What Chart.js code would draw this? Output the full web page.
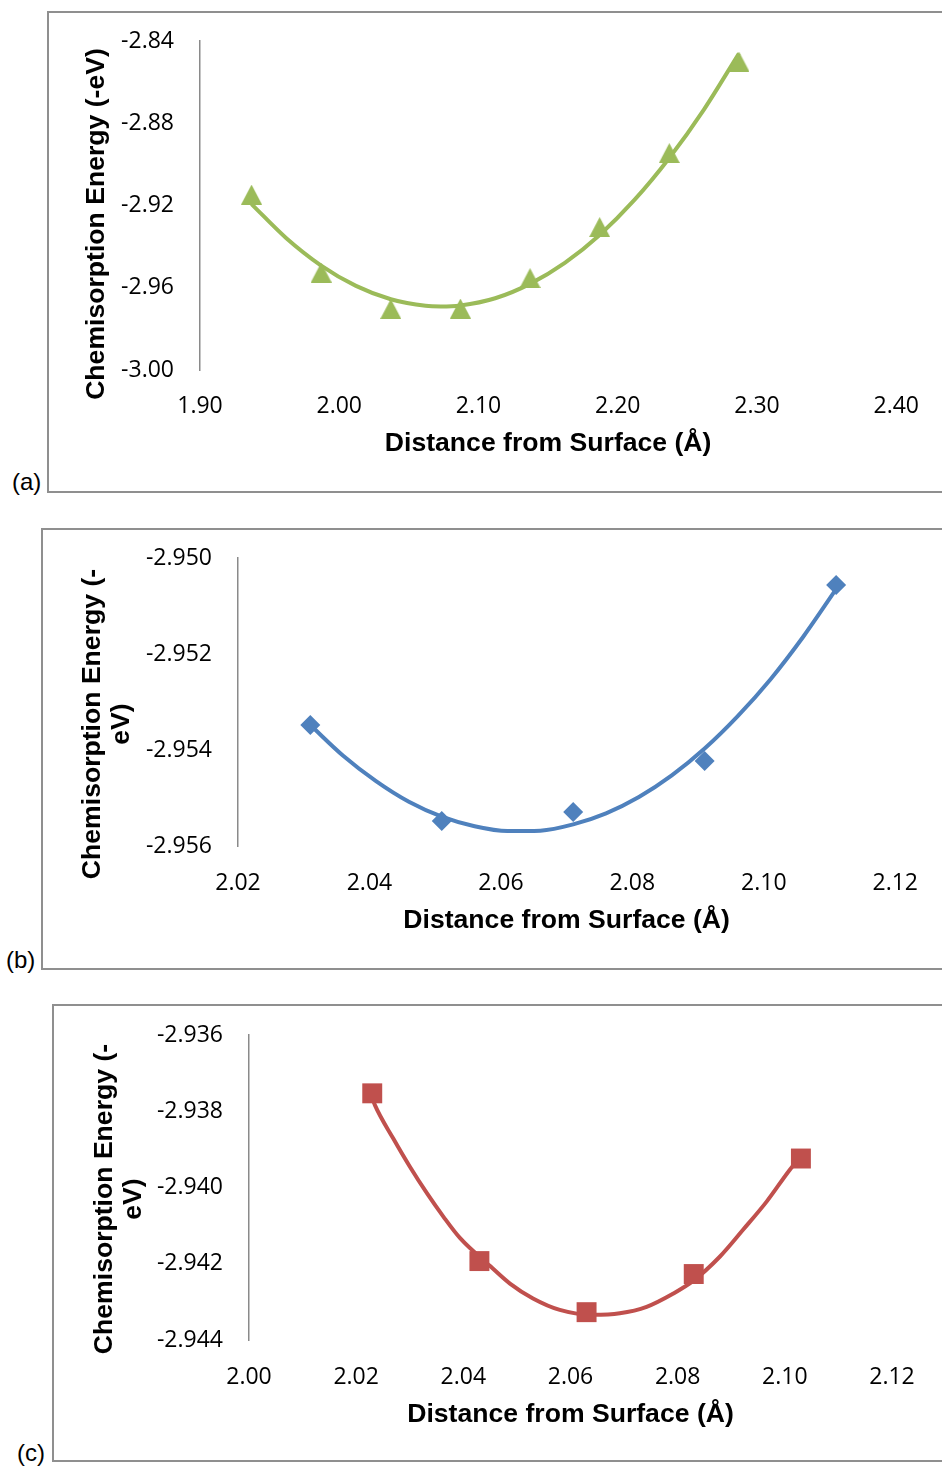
<!DOCTYPE html>
<html>
<head>
<meta charset="utf-8">
<script src="https://cdn.jsdelivr.net/npm/chart.js@4.4.1/dist/chart.umd.min.js"></script>
<style>
html,body{margin:0;padding:0;background:#fff;width:942px;height:1467px;overflow:hidden;position:relative;}
.frame{position:absolute;border:2px solid #8f8f8f;border-right:none;box-sizing:border-box;width:1000px;}
.lbl{position:absolute;font-family:"Liberation Sans",Arial,sans-serif;font-size:24px;line-height:24px;color:#000;white-space:nowrap;}
canvas{position:absolute;left:0;}
</style>
</head>
<body>
<div class="frame" style="left:47px;top:11px;height:482px"></div>
<div class="frame" style="left:41px;top:528px;height:442px"></div>
<div class="frame" style="left:52px;top:1004px;height:458px"></div>
<div class="lbl" style="left:12px;top:470px">(a)</div>
<div class="lbl" style="left:6px;top:948px">(b)</div>
<div class="lbl" style="left:17px;top:1441px">(c)</div>
<canvas id="chartA" width="942" height="495" style="top:0px;width:942px;height:495px"></canvas>
<canvas id="chartB" width="942" height="485" style="top:495px;width:942px;height:485px"></canvas>
<canvas id="chartC" width="942" height="487" style="top:980px;width:942px;height:487px"></canvas>
<script>
// ---------- DATA ----------
// Panel (a)
const distanceA = [1.937, 1.987, 2.037, 2.087, 2.137, 2.187, 2.237, 2.287];
const energyA   = [-2.9147, -2.9526, -2.9703, -2.9701, -2.9553, -2.9305, -2.8945, -2.8500];
const trendDistanceA = [1.937, 1.962, 1.987, 2.012, 2.037, 2.062, 2.073, 2.087, 2.112, 2.137, 2.162, 2.187, 2.212, 2.237, 2.262, 2.287];
const trendEnergyA   = [-2.9193, -2.9359, -2.9492, -2.9591, -2.9656, -2.9688, -2.9691, -2.9686, -2.9651, -2.9581, -2.9479, -2.9343, -2.9173, -2.8969, -2.8732, -2.8461];
const xTicksA = [1.90, 2.00, 2.10, 2.20, 2.30, 2.40];
const xTickLabelsA = ['1.90', '2.00', '2.10', '2.20', '2.30', '2.40'];
const yTicksA = [-3.00, -2.96, -2.92, -2.88, -2.84];
const yTickLabelsA = ['-3.00', '-2.96', '-2.92', '-2.88', '-2.84'];

// Panel (b)
const distanceB = [2.031, 2.051, 2.071, 2.091, 2.111];
const energyB   = [-2.95348, -2.95548, -2.95529, -2.95423, -2.95056];
const trendDistanceB = [2.031, 2.036, 2.041, 2.046, 2.051, 2.056, 2.061, 2.066, 2.071, 2.076, 2.081, 2.086, 2.091, 2.096, 2.101, 2.106, 2.111];
const trendEnergyB   = [-2.95348, -2.95412, -2.95465, -2.95508, -2.95539, -2.95559, -2.95569, -2.95568, -2.95555, -2.95532, -2.95498, -2.95453, -2.95397, -2.95330, -2.95253, -2.95164, -2.95065];
const xTicksB = [2.02, 2.04, 2.06, 2.08, 2.10, 2.12];
const xTickLabelsB = ['2.02', '2.04', '2.06', '2.08', '2.10', '2.12'];
const yTicksB = [-2.956, -2.954, -2.952, -2.950];
const yTickLabelsB = ['-2.956', '-2.954', '-2.952', '-2.950'];

// Panel (c)
const distanceC = [2.023, 2.043, 2.063, 2.083, 2.103];
const energyC   = [-2.93753, -2.94193, -2.94327, -2.94227, -2.93924];
const trendDistanceC = [2.0230, 2.0235, 2.0269, 2.0300, 2.0332, 2.0363, 2.0394, 2.0450, 2.0487, 2.0530, 2.0580, 2.0642, 2.0692, 2.0742, 2.0792, 2.0829, 2.0879, 2.0922, 2.0966, 2.1009, 2.1030];
const trendEnergyC   = [-2.93765, -2.93784, -2.93871, -2.93945, -2.94015, -2.94077, -2.94133, -2.94206, -2.94252, -2.94291, -2.94321, -2.94334, -2.94330, -2.94313, -2.94278, -2.94245, -2.94181, -2.94111, -2.94037, -2.93954, -2.93918];
const xTicksC = [2.00, 2.02, 2.04, 2.06, 2.08, 2.10, 2.12];
const xTickLabelsC = ['2.00', '2.02', '2.04', '2.06', '2.08', '2.10', '2.12'];
const yTicksC = [-2.944, -2.942, -2.940, -2.938, -2.936];
const yTickLabelsC = ['-2.944', '-2.942', '-2.940', '-2.938', '-2.936'];

const xTitleText = 'Distance from Surface (Å)';
const yTitleA = ['Chemisorption Energy (-eV)'];
const yTitleB = ['Chemisorption Energy (-', 'eV)'];
const yTitleC = ['Chemisorption Energy (-', 'eV)'];

// ---------- STYLE / HELPERS ----------
const TICK_FONT = {family: '"Open Sans", "Liberation Sans", Arial, sans-serif', size: 23};
const TITLE_FAMILY = '"Liberation Sans", Arial, sans-serif';
const TITLE_SIZE = 26.6;

function toPoints(xs, ys) { return xs.map((x, i) => ({x: x, y: ys[i]})); }

function triangleImg(color) {
  const c = document.createElement('canvas');
  c.width = 21; c.height = 20;
  const g = c.getContext('2d');
  g.fillStyle = color;
  g.beginPath();
  g.moveTo(10.5, 0); g.lineTo(21, 20); g.lineTo(0, 20); g.closePath();
  g.fill();
  return c;
}

// draws the rotated y-axis title (multi-line) at given baseline positions
const yTitlePlugin = {
  id: 'yTitleText',
  afterDraw(chart, args, opts) {
    if (!opts || !opts.lines) return;
    const ctx = chart.ctx;
    ctx.save();
    ctx.font = 'bold ' + TITLE_SIZE + 'px ' + TITLE_FAMILY;
    ctx.fillStyle = '#000';
    ctx.textAlign = 'center';
    ctx.textBaseline = 'alphabetic';
    opts.lines.forEach((line, i) => {
      ctx.save();
      ctx.translate(opts.baselines[i], opts.centerY);
      ctx.rotate(-Math.PI / 2);
      ctx.fillText(line, 0, 0);
      ctx.restore();
    });
    ctx.restore();
  }
};

function makeChart(id, p) {
  const ctx = document.getElementById(id);
  return new Chart(ctx, {
    type: 'scatter',
    data: {
      datasets: [
        {
          data: toPoints(p.dist, p.energy),
          showLine: false,
          pointStyle: p.pointStyle,
          pointRadius: p.pointRadius,
          pointBackgroundColor: p.color,
          pointBorderColor: p.color,
          pointBorderWidth: 0,
          order: 0
        },
        {
          data: toPoints(p.trendDist, p.trendEnergy),
          showLine: true,
          borderColor: p.color,
          borderWidth: 4,
          pointRadius: 0,
          cubicInterpolationMode: 'monotone',
          fill: false,
          order: 1
        }
      ]
    },
    options: {
      responsive: false,
      animation: false,
      events: [],
      layout: {padding: p.padding},
      plugins: {
        legend: {display: false},
        tooltip: {enabled: false},
        yTitleText: p.yTitle
      },
      scales: {
        x: {
          type: 'linear',
          position: 'bottom',
          min: p.xTicks[0],
          max: p.xTicks[p.xTicks.length - 1],
          afterBuildTicks: s => { s.ticks = p.xTicks.map(v => ({value: v})); },
          afterFit: s => { s.height = 100; },
          grid: {display: false, drawTicks: false},
          border: {display: false},
          ticks: {
            padding: p.xTickPad,
            font: TICK_FONT,
            color: '#000',
            maxRotation: 0,
            autoSkip: false,
            callback: (v) => p.xLabels[p.xTicks.indexOf(v)]
          },
          title: {
            display: true,
            text: xTitleText,
            color: '#000',
            font: {family: TITLE_FAMILY, size: TITLE_SIZE, weight: 'bold'},
            padding: {top: 0, bottom: p.xTitlePad}
          }
        },
        y: {
          type: 'linear',
          position: 'left',
          min: p.yTicks[0],
          max: p.yTicks[p.yTicks.length - 1],
          afterBuildTicks: s => { s.ticks = p.yTicks.map(v => ({value: v})); },
          afterFit: s => { s.width = 130; },
          grid: {display: false, drawTicks: false},
          border: {display: true, color: '#8a8a8a', width: 1.5},
          ticks: {
            padding: 26,
            font: TICK_FONT,
            color: '#000',
            autoSkip: false,
            callback: (v) => p.yLabels[p.yTicks.indexOf(v)]
          },
          title: {display: false}
        }
      }
    },
    plugins: [yTitlePlugin]
  });
}

// Panel (a): canvas top 0, plot area x 200..900, y 41..370
makeChart('chartA', {
  dist: distanceA, energy: energyA, trendDist: trendDistanceA, trendEnergy: trendEnergyA,
  xTicks: xTicksA, xLabels: xTickLabelsA, yTicks: yTicksA, yLabels: yTickLabelsA,
  color: '#9BBB59', pointStyle: triangleImg('#9BBB59'), pointRadius: 10,
  padding: {left: 70, right: 42, top: 41, bottom: 25},
  xTickPad: 23, xTitlePad: 10,
  yTitle: {lines: yTitleA, baselines: [104], centerY: 224}
});

// Panel (b): canvas top 495, plot area x 238..905, y 558..846 (local 63..351)
makeChart('chartB', {
  dist: distanceB, energy: energyB, trendDist: trendDistanceB, trendEnergy: trendEnergyB,
  xTicks: xTicksB, xLabels: xTickLabelsB, yTicks: yTicksB, yLabels: yTickLabelsB,
  color: '#4F81BD', pointStyle: 'rectRot', pointRadius: 10,
  padding: {left: 108, right: 37, top: 63, bottom: 34},
  xTickPad: 24, xTitlePad: 9,
  yTitle: {lines: yTitleB, baselines: [100, 128.5], centerY: 229}
});

// Panel (c): canvas top 980, plot area x 249..892, y 1035..1340 (local 55..360)
makeChart('chartC', {
  dist: distanceC, energy: energyC, trendDist: trendDistanceC, trendEnergy: trendEnergyC,
  xTicks: xTicksC, xLabels: xTickLabelsC, yTicks: yTicksC, yLabels: yTickLabelsC,
  color: '#C0504D', pointStyle: 'rect', pointRadius: 14.1,
  padding: {left: 119, right: 50, top: 55, bottom: 27},
  xTickPad: 24, xTitlePad: 9,
  yTitle: {lines: yTitleC, baselines: [112, 140.5], centerY: 219}
});
</script>
</body>
</html>
